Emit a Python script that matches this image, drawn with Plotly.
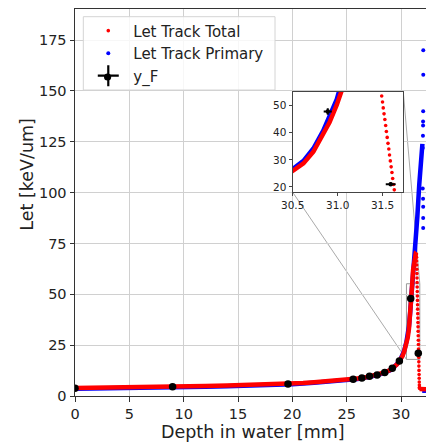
import plotly.graph_objects as go

# ---------------- data ----------------
depth_total_line = [0, 1, 2, 4, 6, 8, 10, 12, 14, 16, 18, 20, 21, 22, 23, 24, 25, 25.6, 26,
                    26.5, 27, 27.5, 28, 28.5, 29, 29.3, 29.6, 29.85, 30.0, 30.15, 30.3, 30.4,
                    30.5, 30.62, 30.73, 30.84, 30.91, 30.99, 31.03, 31.11, 31.2, 31.3, 31.37,
                    31.41, None, 31.717, 32.0, 32.3]
let_total_line = [3.9, 3.95, 4.0, 4.1, 4.3, 4.45, 4.65, 4.9, 5.15, 5.4, 5.65, 6.05, 6.4, 6.8,
                  7.2, 7.6, 7.9, 8.2, 8.5, 8.9, 9.5, 10.1, 10.7, 11.6, 12.8, 13.9, 15.4, 17.0,
                  18.3, 19.9, 22.0, 23.8, 25.9, 28.7, 33.0, 39.2, 43.9, 50.3, 55.0, 61.9, 66.0,
                  69.3, 70.5, 70.7, None, 3.5, 3.4, 3.3]

depth_total_pts = [31.420, 31.429, 31.437, 31.446, 31.455, 31.464, 31.472, 31.481, 31.490,
                   31.499, 31.507, 31.516, 31.525, 31.534, 31.542, 31.551, 31.560, 31.569,
                   31.577, 31.586, 31.595, 31.604, 31.612, 31.621, 31.630, 31.639, 31.647,
                   31.656, 31.665, 31.674, 31.682, 31.691, 31.700, 31.709]
let_total_pts = [69.8, 68.2, 66.4, 64.4, 62.3, 60.2, 58.0, 55.8, 53.6, 51.4, 49.2, 47.0, 44.9,
                 42.7, 40.5, 38.3, 36.1, 34.0, 31.8, 29.6, 27.4, 25.3, 23.1, 20.9, 18.9, 16.8,
                 14.7, 12.6, 10.6, 8.7, 6.9, 5.4, 4.3, 3.7]

depth_primary_line = [0, 2, 4, 6, 8, 10, 12, 14, 16, 18, 20, 22, 24, 26, 27, 28, 29, 29.6,
                      30.0, 30.3, 30.5, 30.62, 30.73, 30.84, 30.91, 30.99, 31.03, 31.11, 31.2,
                      31.32, 31.5, 31.68, 31.87, 31.93, 31.97, None, 31.95, 32.3]
let_primary_line = [3.6, 3.7, 3.8, 4.0, 4.15, 4.35, 4.6, 4.85, 5.1, 5.4, 5.8, 6.5, 7.3,
                    8.3, 9.3, 10.5, 12.6, 15.5, 18.6, 22.5, 26.6, 29.6, 34.2, 40.8, 45.8, 52.4,
                    57.0, 62.6, 66.8, 71.0, 87.9, 104.0, 115.8, 118.0, 124.0, None, 2.6, 2.6]

depth_primary_pts = [32.05, 32.05, 32.04, 32.03, 32.03, 32.02, 32.00, 32.00, 32.03, 32.04,
                     32.04, 32.04]
let_primary_pts = [170, 158, 140, 135, 133, 128, 122, 102, 97, 93, 87.5, 82.6]

yF_depth = [0.0, 8.98, 19.6, 25.6, 26.4, 27.1, 27.8, 28.5, 29.2, 29.85, 30.89, 31.59]
yF_let = [3.8, 4.6, 5.9, 8.2, 8.8, 9.7, 10.3, 11.5, 13.6, 17.2, 47.9, 21.0]
yF_xerr = [0.045, 0.045, 0.045, 0.045, 0.045, 0.045, 0.045, 0.045, 0.045, 0.045, 0.045, 0.055]
yF_yerr = [0.1, 0.1, 0.15, 0.2, 0.2, 0.25, 0.25, 0.3, 0.35, 0.45, 1.2, 0.7]

x_ticks = [0, 5, 10, 15, 20, 25, 30]
y_ticks = [0, 25, 50, 75, 100, 125, 150, 175]
inset_x_ticks = [30.5, 31.0, 31.5]
inset_x_ticktext = ["30.5", "31.0", "31.5"]
inset_y_ticks = [20, 30, 40, 50]

x_range = [0, 32.3]
y_range = [0, 190.3]
inset_x_range = [30.5, 31.73]
inset_y_range = [18.0, 55.2]

# ---------------- figure ----------------
W, H = 426, 443
ML, MR, MT, MB = 75, 0, 9, 47
FONT = "DejaVu Sans"
RED, BLUE = "#ff0000", "#0000ff"

inset_dom_x = [0.6202, 0.9353]
inset_dom_y = [0.5264, 0.7863]

PW, PH = W - ML - MR, H - MT - MB


def px_x(p):  # pixel -> paper x
    return (p - ML) / PW


def px_y(p):  # pixel -> paper y
    return (H - MB - p) / PH


fig = go.Figure()


def add_curves(xa, ya, legend):
    fig.add_trace(go.Scatter(x=depth_primary_line, y=let_primary_line, mode="lines",
                             line=dict(color=BLUE, width=4.5), showlegend=False,
                             hoverinfo="skip", xaxis=xa, yaxis=ya, connectgaps=False))
    fig.add_trace(go.Scatter(x=depth_primary_pts, y=let_primary_pts, mode="markers",
                             marker=dict(color=BLUE, size=4), name="Let Track Primary",
                             showlegend=legend, legendrank=2, xaxis=xa, yaxis=ya))
    fig.add_trace(go.Scatter(x=depth_total_line, y=let_total_line, mode="lines",
                             line=dict(color=RED, width=4.5), showlegend=False,
                             hoverinfo="skip", xaxis=xa, yaxis=ya, connectgaps=False))
    fig.add_trace(go.Scatter(x=depth_total_pts, y=let_total_pts, mode="markers",
                             marker=dict(color=RED, size=3.6), name="Let Track Total",
                             showlegend=legend, legendrank=1, xaxis=xa, yaxis=ya))


add_curves("x", "y", True)
fig.add_trace(go.Scatter(x=yF_depth, y=yF_let, mode="markers",
                         marker=dict(color="black", size=7.5),
                         error_x=dict(type="data", array=yF_xerr, color="black", thickness=2, width=0),
                         error_y=dict(type="data", array=yF_yerr, color="black", thickness=2, width=0),
                         showlegend=False, xaxis="x", yaxis="y"))
# legend entry for y_F (cross like an errorbar marker)
fig.add_trace(go.Scatter(x=[None], y=[None], mode="markers", name="y_F", legendrank=3,
                         marker=dict(symbol="cross-thin", size=15, color="black",
                                     line=dict(color="black", width=2.2))))

add_curves("x2", "y2", False)
fig.add_trace(go.Scatter(x=yF_depth, y=yF_let, mode="markers",
                         marker=dict(color="black", size=4.5),
                         error_x=dict(type="data", array=yF_xerr, color="black", thickness=2, width=0),
                         error_y=dict(type="data", array=yF_yerr, color="black", thickness=2, width=0),
                         showlegend=False, xaxis="x2", yaxis="y2"))

axis_common = dict(showline=True, linecolor="#333", linewidth=1, ticks="outside", ticklen=4.5,
                   tickcolor="#333", tickwidth=1, zeroline=False,
                   tickfont=dict(family=FONT, size=14.5, color="#222"))


# inset corners expressed in main-axis data coordinates (for mark_inset style connectors)
def to_main_x(f):
    return x_range[0] + f * (x_range[1] - x_range[0])


def to_main_y(f):
    return y_range[0] + f * (y_range[1] - y_range[0])


conn = dict(color="#aaaaaa", width=1)
shapes = [
    dict(type="rect", xref="x", yref="y", x0=inset_x_range[0], x1=inset_x_range[1],
         y0=inset_y_range[0], y1=inset_y_range[1], line=dict(color="#999999", width=1),
         layer="below"),
    dict(type="line", xref="x", yref="y", x0=to_main_x(inset_dom_x[0]), y0=to_main_y(inset_dom_y[0]),
         x1=inset_x_range[0], y1=inset_y_range[0], line=conn, layer="below"),
    dict(type="line", xref="x", yref="y", x0=to_main_x(inset_dom_x[1]), y0=to_main_y(inset_dom_y[1]),
         x1=inset_x_range[1], y1=inset_y_range[1], line=conn, layer="below"),
    # legend frame (drawn as a shape so the y_F marker dot can sit on top of it)
    dict(type="rect", xref="paper", yref="paper", x0=px_x(83.3), x1=px_x(275),
         y0=px_y(90), y1=px_y(16.7), line=dict(color="#d4d4d4", width=1),
         fillcolor="rgba(255,255,255,0.82)", layer="above"),
    # centre dot of the y_F legend symbol
    dict(type="circle", xref="paper", yref="paper", x0=px_x(104), x1=px_x(111.2),
         y0=px_y(80.6), y1=px_y(73.4), line=dict(width=0), fillcolor="black", layer="above"),
]

fig.update_layout(
    width=W, height=H, margin=dict(l=ML, r=MR, t=MT, b=MB, pad=0),
    paper_bgcolor="white", plot_bgcolor="white",
    font=dict(family=FONT, color="#222"),
    xaxis=dict(domain=[0, 1], range=x_range, tickvals=x_ticks, showgrid=True,
               gridcolor="#d0d0d0", gridwidth=1, mirror=True, anchor="y", **axis_common),
    yaxis=dict(domain=[0, 1], range=y_range, tickvals=y_ticks, showgrid=True,
               gridcolor="#d0d0d0", gridwidth=1, anchor="x", **axis_common),
    xaxis2=dict(domain=inset_dom_x, range=inset_x_range, tickvals=inset_x_ticks,
                ticktext=inset_x_ticktext, anchor="y2", showgrid=False, mirror=True,
                showline=True, linecolor="#444", linewidth=1.2, ticks="outside", ticklen=3,
                tickcolor="#444", zeroline=False,
                tickfont=dict(family=FONT, size=10.5, color="#222")),
    yaxis2=dict(domain=inset_dom_y, range=inset_y_range, tickvals=inset_y_ticks,
                anchor="x2", showgrid=False, mirror=True, showline=True, linecolor="#444",
                linewidth=1.2, ticks="outside", ticklen=3, tickcolor="#444", zeroline=False,
                tickfont=dict(family=FONT, size=10.5, color="#222")),
    legend=dict(x=0.0236, y=0.986, xanchor="left", yanchor="top", itemwidth=40,
                bgcolor="rgba(255,255,255,0)", borderwidth=0,
                font=dict(family=FONT, size=15, color="#222")),
    shapes=shapes,
    annotations=[
        dict(text="Depth in water [mm]", xref="paper", yref="paper", x=0.507, y=-0.0922,
             xanchor="center", yanchor="middle", showarrow=False,
             font=dict(family=FONT, size=17.5, color="#222")),
        dict(text="Let [keV/um]", xref="paper", yref="paper", x=-0.1376, y=0.5736,
             xanchor="center", yanchor="middle", textangle=-90, showarrow=False,
             font=dict(family=FONT, size=17.5, color="#222")),
    ],
)

fig.write_html("out.html", config={"displayModeBar": False},
               post_script="document.body.style.margin='0px';")
